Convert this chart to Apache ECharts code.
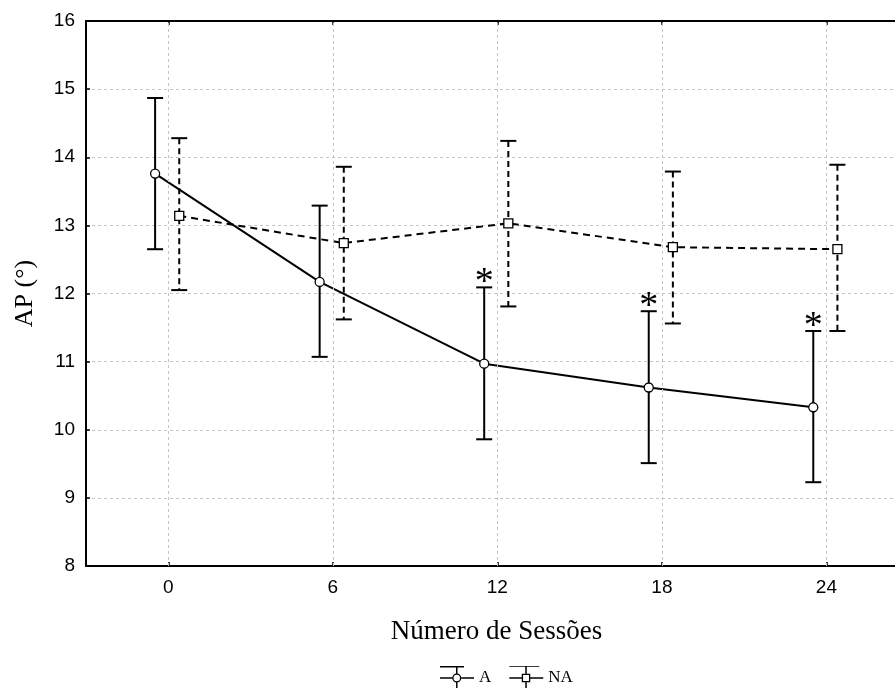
<!DOCTYPE html>
<html>
<head>
<meta charset="utf-8">
<script src="https://cdn.jsdelivr.net/npm/echarts@6/dist/echarts.min.js"></script>
<style>html,body{margin:0;padding:0;background:#fff}#c{width:895px;height:688px}</style>
</head>
<body>
<div id="c"></div>
<script>
// ---- data ----
const sessions = [0, 6, 12, 18, 24];
const xTicks = [0, 6, 12, 18, 24];
const aMean = [13.76, 12.17, 10.97, 10.62, 10.33];
const aLow  = [12.65, 11.07, 9.86, 9.51, 9.23];
const aHigh = [14.87, 13.29, 12.09, 11.74, 11.45];
const naMean = [13.14, 12.74, 13.03, 12.68, 12.65];
const naLow  = [12.05, 11.62, 11.81, 11.56, 11.45];
const naHigh = [14.28, 13.86, 14.24, 13.79, 13.89];
const aSignificant = [0, 0, 1, 1, 1];
const seriesNames = ['A', 'NA'];
const xTitle = 'Número de Sessões';
const yTitle = 'AP (°)';

// ---- layout constants ----
const A_OFF = -0.48, NA_OFF = 0.4;
const SERIF = '"Liberation Serif", "Times New Roman", serif';
const SANS = '"Liberation Sans", Arial, sans-serif';

const chart = echarts.init(document.getElementById('c'), null, {renderer: 'canvas'});

function errBars(lows, highs, offset, dashed, sig) {
  return {
    type: 'custom',
    xAxisIndex: 0, yAxisIndex: 0,
    z: 2,
    silent: true,
    data: sessions.map((s, i) => [s + offset, lows[i], highs[i], sig ? sig[i] : 0]),
    encode: {x: 0, y: [1, 2]},
    renderItem: function (params, api) {
      const x = api.value(0);
      const pHi = api.coord([x, api.value(2)]);
      const pLo = api.coord([x, api.value(1)]);
      const hw = 8;
      const base = {stroke: '#000', lineWidth: 2, fill: null};
      const children = [
        {type: 'line', shape: {x1: pHi[0], y1: pHi[1], x2: pLo[0], y2: pLo[1]},
         style: Object.assign({}, base, dashed ? {lineDash: [6, 4]} : {})},
        {type: 'line', shape: {x1: pHi[0] - hw, y1: pHi[1], x2: pHi[0] + hw, y2: pHi[1]}, style: base},
        {type: 'line', shape: {x1: pLo[0] - hw, y1: pLo[1], x2: pLo[0] + hw, y2: pLo[1]}, style: base}
      ];
      if (api.value(3)) {
        children.push({type: 'text', style: {text: '*', x: pHi[0], y: pHi[1] - 4,
          textAlign: 'center', textVerticalAlign: 'middle', fill: '#000',
          font: '38px ' + SERIF}});
      }
      return {type: 'group', children: children};
    }
  };
}

const iconA = 'path://M0 0H24V1.5H0Z M0 22.5H24V24H0Z M16 0H17.5V7.5H16Z M16 16.5H17.5V24H16Z ' +
  'M0 11.25H12.3V12.75H0Z M21.2 11.25H34V12.75H21.2Z ' +
  'M21.25 12A4.5 4.5 0 1 0 12.25 12A4.5 4.5 0 1 0 21.25 12Z M19.95 12A3.2 3.2 0 1 1 13.55 12A3.2 3.2 0 1 1 19.95 12Z';
const iconNA = 'path://M0 0H30V0.8H0Z M0 23.2H30V24H0Z M16 0H17.5V7.7H16Z M16 16.3H17.5V24H16Z ' +
  'M0 11.25H12.5V12.75H0Z M21 11.25H34V12.75H21Z ' +
  'M12.5 7.7H21V16.3H12.5Z M19.7 9H13.8V15H19.7Z';

const option = {
  backgroundColor: '#fff',
  animation: false,
  grid: {left: 86, top: 21, right: 0, bottom: 122, containLabel: false},
  legend: {
    left: 440, top: 666, padding: 0,
    itemWidth: 34, itemHeight: 24, itemGap: 18,
    selectedMode: false,
    textStyle: {fontFamily: SERIF, fontSize: 17, color: '#000', padding: [2, 0, 0, 0]},
    data: [
      {name: seriesNames[0], icon: iconA, itemStyle: {color: '#000', borderWidth: 0}},
      {name: seriesNames[1], icon: iconNA, itemStyle: {color: '#000', borderWidth: 0}}
    ]
  },
  xAxis: [{
    type: 'value', position: 'bottom', min: -3, max: 26.5,
    name: xTitle, nameLocation: 'middle', nameGap: 52,
    nameTextStyle: {fontFamily: SERIF, fontSize: 27, color: '#000', padding: [0, 0, 0, 12]},
    axisLine: {show: true, onZero: false, lineStyle: {color: '#000', width: 2}},
    axisTick: {show: true, inside: true, length: 4, customValues: xTicks, lineStyle: {color: '#000', width: 1.5}},
    axisLabel: {show: true, customValues: xTicks, margin: 12, fontFamily: SANS, fontSize: 19, color: '#000'},
    splitLine: {show: false}
  }, {
    type: 'value', position: 'top', min: -3, max: 26.5,
    axisLine: {show: true, onZero: false, lineStyle: {color: '#000', width: 2}},
    axisTick: {show: true, inside: true, length: 4, customValues: xTicks, lineStyle: {color: '#000', width: 1.5}},
    axisLabel: {show: false},
    splitLine: {show: false}
  }],
  yAxis: {
    type: 'value', min: 8, max: 16, interval: 1,
    name: yTitle, nameLocation: 'middle', nameGap: 48,
    nameTextStyle: {fontFamily: SERIF, fontSize: 26, color: '#000'},
    axisLine: {show: true, onZero: false, lineStyle: {color: '#000', width: 2}},
    axisTick: {show: true, inside: true, length: 4, lineStyle: {color: '#000', width: 1.5}},
    axisLabel: {margin: 11, fontFamily: SANS, fontSize: 19, color: '#000'},
    splitLine: {show: true, lineStyle: {color: '#c4c4c4', width: 1, type: [3, 3]}}
  },
  series: [
    {
      type: 'line', silent: true, z: 1,
      data: [],
      markLine: {
        silent: true, symbol: 'none', label: {show: false},
        lineStyle: {color: '#c4c4c4', width: 1, type: [3, 3]},
        data: xTicks.map(v => ({xAxis: v}))
      }
    },
    errBars(aLow, aHigh, A_OFF, false, aSignificant),
    errBars(naLow, naHigh, NA_OFF, true, null),
    {
      name: seriesNames[0], type: 'line', z: 3,
      data: sessions.map((s, i) => [s + A_OFF, aMean[i]]),
      symbol: 'circle', symbolSize: 9,
      lineStyle: {color: '#000', width: 2},
      itemStyle: {color: '#fff', borderColor: '#000', borderWidth: 1.3}
    },
    {
      name: seriesNames[1], type: 'line', z: 3,
      data: sessions.map((s, i) => [s + NA_OFF, naMean[i]]),
      symbol: 'rect', symbolSize: 9,
      lineStyle: {color: '#000', width: 2, type: [7, 5]},
      itemStyle: {color: '#fff', borderColor: '#000', borderWidth: 1.3}
    }
  ]
};
chart.setOption(option);
</script>
</body>
</html>
